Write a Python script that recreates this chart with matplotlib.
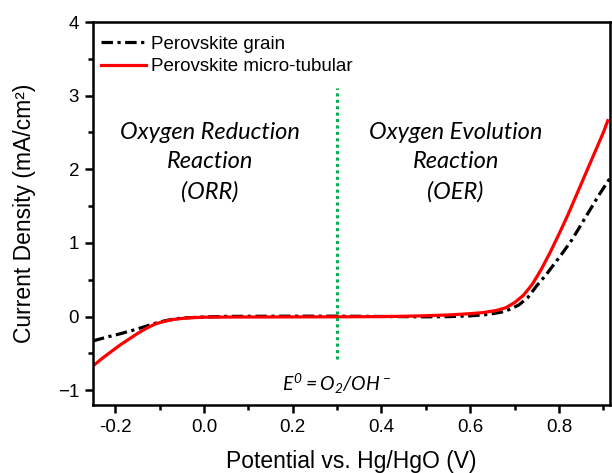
import matplotlib
matplotlib.use('Agg')
import matplotlib.pyplot as plt
from matplotlib.ticker import MultipleLocator, FormatStrFormatter

plt.rcParams['font.family'] = ['Liberation Sans', 'DejaVu Sans']
plt.rcParams['mathtext.fontset'] = 'custom'
plt.rcParams['mathtext.it'] = 'Lato:italic'
plt.rcParams['mathtext.rm'] = 'Lato:italic'

# micro-tubular (red)
x_tube = [-0.25, -0.23, -0.21, -0.19, -0.17, -0.15, -0.13, -0.11, -0.09, -0.07,
          -0.05, -0.03, 0.0, 0.05, 0.1, 0.2, 0.3, 0.4, 0.45, 0.5, 0.55, 0.6,
          0.63, 0.66, 0.68, 0.70, 0.72, 0.74, 0.76, 0.78, 0.80, 0.82, 0.84,
          0.86, 0.88, 0.90, 0.91]
y_tube = [-0.67, -0.57, -0.48, -0.39, -0.31, -0.23, -0.16, -0.10, -0.065, -0.04,
          -0.025, -0.015, -0.008, -0.006, -0.005, -0.004, -0.003, 0.0, 0.005, 0.012,
          0.022, 0.04, 0.055, 0.085, 0.12, 0.19, 0.29, 0.44, 0.64, 0.87, 1.12,
          1.38, 1.66, 1.94, 2.22, 2.50, 2.66]

# grain (black dash-dot)
x_grain = [-0.25, -0.22, -0.19, -0.16, -0.13, -0.11, -0.09, -0.07, -0.05, 0.0,
           0.05, 0.2, 0.3, 0.4, 0.5, 0.55, 0.6, 0.64, 0.67, 0.69, 0.71, 0.73,
           0.75, 0.77, 0.79, 0.81, 0.83, 0.85, 0.87, 0.89, 0.915]
y_grain = [-0.33, -0.28, -0.235, -0.185, -0.13, -0.09, -0.06, -0.035, -0.02, -0.005,
           0.003, 0.006, 0.006, 0.002, -0.003, 0.0, 0.01, 0.03, 0.06, 0.10, 0.16,
           0.26, 0.42, 0.56, 0.72, 0.88, 1.05, 1.25, 1.45, 1.65, 1.88]

e0_x = 0.3
e0_y = [-0.58, 3.1]

fig = plt.figure(figsize=(6.12, 4.73), dpi=100)
ax = fig.add_axes([93 / 612, 1 - 405 / 473, 517 / 612, 383 / 473])

ax.plot(x_grain, y_grain, color='black', lw=2.3, dashes=(3.6, 1.4, 1.0, 1.4),
        label='Perovskite grain')
ax.plot(x_tube, y_tube, color='#ff0000', lw=2.3, label='Perovskite micro-tubular')
ax.plot([e0_x, e0_x], e0_y, color='#00b050', lw=2.2, dashes=(1, 1.1),
        dash_capstyle='butt')

ax.set_xlim(-0.25, 0.915)
ax.set_ylim(-1.2, 4)
ax.xaxis.set_major_locator(MultipleLocator(0.2))
ax.xaxis.set_minor_locator(MultipleLocator(0.1))
ax.xaxis.set_major_formatter(FormatStrFormatter('%.1f'))
ax.yaxis.set_major_locator(MultipleLocator(1))
ax.yaxis.set_minor_locator(MultipleLocator(0.5))
ax.tick_params(which='major', direction='out', length=6, width=1.8,
               labelsize=13.5, pad=4)
ax.tick_params(which='minor', direction='out', length=3.5, width=1.8)
for s in ax.spines.values():
    s.set_linewidth(1.8)

ax.set_xlabel('Potential vs. Hg/HgO (V)', fontsize=16.5, labelpad=10)
ax.set_ylabel('Current Density (mA/cm²)', fontsize=16.5, labelpad=16)

ax.text(0.013, 2.10, 'Oxygen Reduction\nReaction\n(ORR)', family='Lato',
        style='italic', fontsize=17, ha='center', va='center', linespacing=1.5)
ax.text(0.567, 2.10, 'Oxygen Evolution\nReaction\n(OER)', family='Lato',
        style='italic', fontsize=17, ha='center', va='center', linespacing=1.5)
ax.text(0.3, -0.92, r'$E^0 = O_2/OH^-$', fontsize=14, ha='center', va='center')

ax.legend(loc='upper left', bbox_to_anchor=(0.015, 0.965), frameon=False,
          fontsize=13.5, handlelength=2.4, handletextpad=0.3, labelspacing=0.3,
          borderpad=0, borderaxespad=0)

fig.savefig('out.png', dpi=100)
